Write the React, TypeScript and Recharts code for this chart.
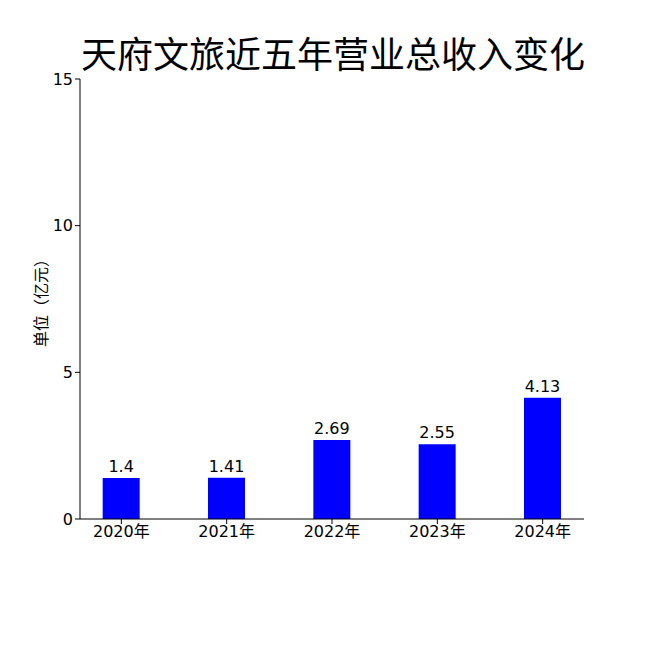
// 天府文旅近五年营业总收入柱状图 (Recharts)
import { BarChart, Bar, XAxis, YAxis, LabelList } from 'recharts';

const years = ['2020年', '2021年', '2022年', '2023年', '2024年'];
const revenue = [1.4, 1.41, 2.69, 2.55, 4.13];
const yTicks = [0, 5, 10, 15];

const data = years.map((year, i) => ({ idx: i, year, revenue: revenue[i] }));

const FONT = '"DejaVu Sans", "Noto Sans CJK SC", sans-serif';
const tickStyle = { fill: '#000', fontSize: 16 };

export default function App() {
  return (
    <div style={{ position: 'absolute', left: 0, top: 0, width: 650, height: 650, background: '#fff' }}>
      <div
        style={{
          position: 'absolute',
          left: 8,
          width: 650,
          top: 25,
          textAlign: 'center',
          fontFamily: '"Noto Sans CJK SC", sans-serif',
          fontSize: 36,
          lineHeight: '54px',
          color: '#000',
        }}
      >
        天府文旅近五年营业总收入变化
      </div>
      <BarChart
        width={650}
        height={650}
        data={data}
        margin={{ top: 79, right: 66, bottom: 101, left: 20 }}
        style={{ fontFamily: FONT }}
      >
        <XAxis
          dataKey="idx"
          type="number"
          domain={[-0.3925, 4.3925]}
          ticks={[0, 1, 2, 3, 4]}
          tickFormatter={(i: number) => years[i]}
          allowDataOverflow
          stroke="#000"
          tick={tickStyle}
          tickSize={5}
          height={30}
        />
        <YAxis
          domain={[0, 15]}
          ticks={yTicks}
          stroke="#000"
          tick={tickStyle}
          tickSize={5}
          width={60}
          label={{
            value: '单位（亿元）',
            angle: -90,
            position: 'insideLeft',
            dx: 16,
            dy: 0,
            style: { fontSize: 16, fill: '#000', textAnchor: 'middle', fontFamily: '"Noto Sans CJK SC", sans-serif' },
          }}
        />
        <Bar dataKey="revenue" fill="#0000FF" barSize={37} isAnimationActive={false}>
          <LabelList dataKey="revenue" position="top" offset={6} fill="#000" fontSize={16} />
        </Bar>
      </BarChart>
    </div>
  );
}
